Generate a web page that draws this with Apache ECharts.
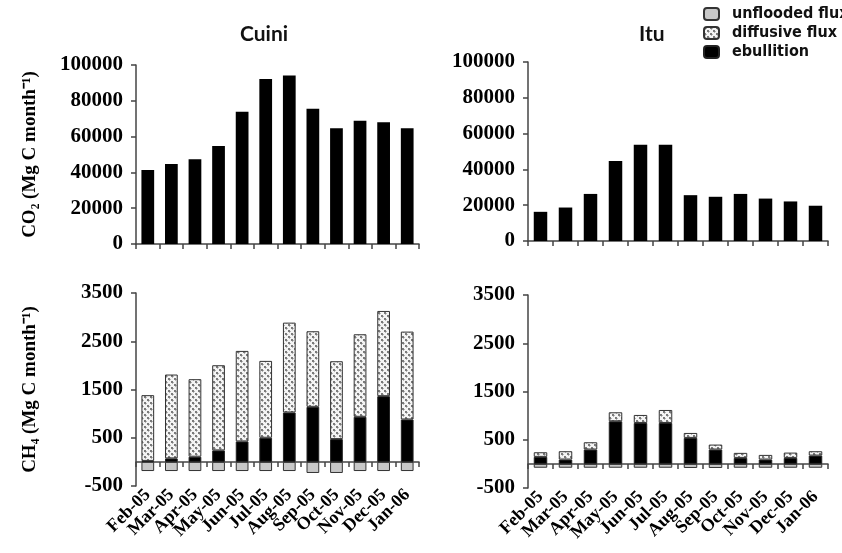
<!DOCTYPE html>
<html>
<head>
<meta charset="utf-8">
<script src="https://cdn.jsdelivr.net/npm/echarts@6/dist/echarts.min.js"></script>
<style>
html, body { margin: 0; padding: 0; background: #fff; }
#main { width: 842px; height: 553px; }
</style>
</head>
<body>
<div id="main"></div>
<script>
var months = ["Feb-05", "Mar-05", "Apr-05", "May-05", "Jun-05", "Jul-05",
	"Aug-05", "Sep-05", "Oct-05", "Nov-05", "Dec-05", "Jan-06"];

// CO2 (Mg C month-1)
var co2Cuini = [41300, 44700, 47300, 54700, 73900, 92200, 94200, 75600, 64600, 68900, 68000, 64600];
var co2Itu = [16300, 18700, 26300, 44700, 53800, 53800, 25600, 24700, 26300, 23700, 22100, 19700];

// CH4 (Mg C month-1)
var ebulCuini = [20, 72, 107, 238, 424, 500, 1024, 1141, 472, 934, 1362, 879];
var diffCuini = [1363, 1738, 1607, 1765, 1876, 1593, 1862, 1566, 1614, 1711, 1766, 1821];
var unflCuini = [-190, -190, -190, -190, -190, -190, -190, -230, -230, -190, -190, -190];

var ebulItu = [145, 90, 297, 883, 848, 848, 538, 297, 124, 90, 124, 172];
var diffItu = [96, 172, 151, 186, 166, 269, 103, 103, 104, 96, 110, 90];
var unflItu = [-80, -80, -80, -80, -80, -80, -85, -85, -80, -80, -80, -80];

var co2Ticks = [0, 100000, 20000];
var ch4Ticks = [-500, 3500, 1000];

var serif = "'Liberation Serif', 'Times New Roman', serif";
var narrow = "'DejaVu Sans Condensed', 'Liberation Sans Narrow', 'Roboto Condensed', Roboto, sans-serif";
var lineCol = "#444";

function makePattern() {
	var c = document.createElement("canvas");
	c.width = 6;
	c.height = 6;
	var ctx = c.getContext("2d");
	ctx.fillStyle = "#f4f4f4";
	ctx.fillRect(0, 0, 6, 6);
	ctx.fillStyle = "#7a7a7a";
	ctx.fillRect(0, 0, 2, 2);
	ctx.fillRect(3, 3, 2, 2);
	ctx.fillStyle = "#b4b4b4";
	ctx.fillRect(2, 1, 1, 1);
	ctx.fillRect(5, 4, 1, 1);
	ctx.fillRect(1, 2, 1, 1);
	ctx.fillRect(4, 5, 1, 1);
	return c;
}

var diffColor = { image: makePattern(), repeat: "repeat" };

var grids = [
	{ left: 136, right: 423, top: 65, bottom: 309 },
	{ left: 528, right: 14, top: 62, bottom: 312 },
	{ left: 136, right: 423, top: 293, bottom: 67 },
	{ left: 528, right: 14, top: 295, bottom: 65 }
];

function tickAxis(gi, showLabel, onZero) {
	return {
		type: "category",
		gridIndex: gi,
		data: months,
		position: "bottom",
		boundaryGap: true,
		axisLine: { show: !showLabel, onZero: onZero, lineStyle: { color: lineCol, width: 1.5 } },
		axisTick: { show: !showLabel, alignWithLabel: false, length: 5, lineStyle: { color: lineCol, width: 1.5 } },
		axisLabel: {
			show: showLabel,
			rotate: 45,
			interval: 0,
			margin: 6,
			color: "#000",
			fontFamily: serif,
			fontWeight: "bold",
			fontSize: 18
		}
	};
}

function valAxis(gi, ticks, name) {
	var ax = {
		type: "value",
		gridIndex: gi,
		min: ticks[0],
		max: ticks[1],
		interval: ticks[2],
		splitLine: { show: false },
		axisLine: { show: true, lineStyle: { color: lineCol, width: 1.5 } },
		axisTick: { show: true, length: 5, lineStyle: { color: lineCol, width: 1.5 } },
		axisLabel: {
			color: "#000",
			fontFamily: serif,
			fontWeight: "bold",
			fontSize: 21,
			margin: 13,
			formatter: function(v) { return String(v); }
		}
	};
	if (name) {
		ax.name = name;
		ax.nameLocation = "middle";
		ax.nameGap = 96;
		ax.nameTextStyle = { color: "#000", fontFamily: serif, fontWeight: "bold", fontSize: 19 };
	}
	return ax;
}

var xAxes = [
	tickAxis(0, false, true),
	tickAxis(1, false, true),
	tickAxis(2, true, false),
	tickAxis(2, false, true),
	tickAxis(3, true, false),
	tickAxis(3, false, true)
];

var yAxes = [
	valAxis(0, co2Ticks, "CO\u2082 (Mg C month\u207B\u00B9)"),
	valAxis(1, co2Ticks, ""),
	valAxis(2, ch4Ticks, "CH\u2084 (Mg C month\u207B\u00B9)"),
	valAxis(3, ch4Ticks, "")
];

var barW = "54%";

function ch4Series(xi, yi, stack, ebul, diff, unfl) {
	return [{
		name: "ebullition",
		type: "bar",
		xAxisIndex: xi,
		yAxisIndex: yi,
		stack: stack,
		barWidth: barW,
		itemStyle: { color: "#000", borderColor: "#222", borderWidth: 1 },
		data: ebul
	}, {
		name: "diffusive flux",
		type: "bar",
		xAxisIndex: xi,
		yAxisIndex: yi,
		stack: stack,
		barWidth: barW,
		itemStyle: { color: diffColor, borderColor: "#333", borderWidth: 1 },
		data: diff
	}, {
		name: "unflooded flux",
		type: "bar",
		xAxisIndex: xi,
		yAxisIndex: yi,
		stack: stack,
		barWidth: barW,
		itemStyle: { color: "#c8c8c8", borderColor: "#333", borderWidth: 1 },
		data: unfl
	}];
}

var series = [{
	name: "CO2 Cuini",
	type: "bar",
	xAxisIndex: 0,
	yAxisIndex: 0,
	barWidth: barW,
	itemStyle: { color: "#000" },
	data: co2Cuini
}, {
	name: "CO2 Itu",
	type: "bar",
	xAxisIndex: 1,
	yAxisIndex: 1,
	barWidth: barW,
	itemStyle: { color: "#000" },
	data: co2Itu
}];
series = series.concat(ch4Series(2, 2, "cuini", ebulCuini, diffCuini, unflCuini));
series = series.concat(ch4Series(4, 3, "itu", ebulItu, diffItu, unflItu));

var chart = echarts.init(document.getElementById("main"), null, { renderer: "canvas" });

var option = {
	animation: false,
	backgroundColor: "#fff",
	title: [{
		text: "Cuini",
		left: 235,
		top: 19,
		textStyle: { fontFamily: "Lato, 'Open Sans', sans-serif", fontWeight: "bold", fontSize: 21, color: "#111" }
	}, {
		text: "Itu",
		left: 634,
		top: 19,
		textStyle: { fontFamily: "Lato, 'Open Sans', sans-serif", fontWeight: "bold", fontSize: 21, color: "#111" }
	}],
	legend: {
		orient: "vertical",
		left: 698,
		top: 1,
		itemWidth: 15,
		itemHeight: 12,
		itemGap: 3,
		data: ["unflooded flux", "diffusive flux", "ebullition"],
		textStyle: { fontFamily: narrow, fontWeight: "bold", fontSize: 16, color: "#111", padding: [0, 0, 0, 8] }
	},
	grid: grids,
	xAxis: xAxes,
	yAxis: yAxes,
	series: series
};

chart.setOption(option);
</script>
</body>
</html>
